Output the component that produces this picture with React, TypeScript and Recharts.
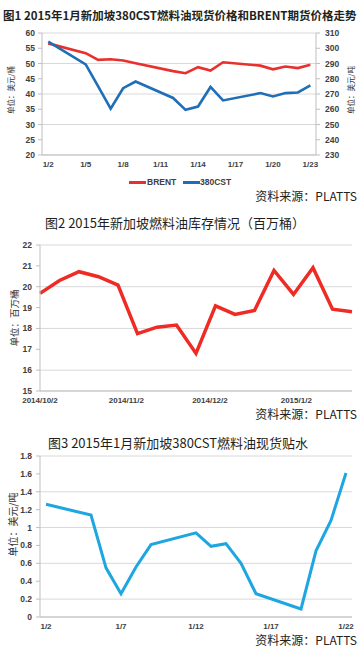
import React from "react";
import { LineChart, Line, XAxis, YAxis, CartesianGrid } from "recharts";

// fig 1: Jan 2015 trading days, Brent ($/bbl, left) and 380CST ($/t, right)
const fig1Days = [2, 5, 6, 7, 8, 9, 12, 13, 14, 15, 16, 19, 20, 21, 22, 23];
const fig1Brent = [56.6, 53.4, 51.2, 51.4, 51.0, 50.1, 47.5, 46.8, 48.8, 47.7, 50.4, 49.3, 48.1, 49.0, 48.5, 49.6];
const fig1Cst = [304.4, 289.4, 275, 260.4, 273.8, 278.2, 267.4, 259.6, 261.8, 274.6, 265.8, 270.6, 268.4, 270.6, 271, 275.6];
const fig1Ticks = [2, 5, 8, 11, 14, 17, 20, 23];
const fig1LeftTicks = [20, 25, 30, 35, 40, 45, 50, 55, 60];
const fig1RightTicks = [230, 240, 250, 260, 270, 280, 290, 300, 310];

// fig 2: weekly Singapore fuel oil stocks (million bbl)
const fig2Dates = [
  "2014-10-02", "2014-10-09", "2014-10-16", "2014-10-23", "2014-10-30",
  "2014-11-06", "2014-11-13", "2014-11-20", "2014-11-27", "2014-12-04",
  "2014-12-11", "2014-12-18", "2014-12-25", "2015-01-01", "2015-01-08",
  "2015-01-15", "2015-01-22",
];
const fig2Stock = [19.68, 20.3, 20.72, 20.48, 20.08, 17.75, 18.06, 18.16, 16.8, 19.08, 18.67, 18.86, 20.78, 19.63, 20.91, 18.92, 18.8];
const fig2TickDates = ["2014-10-02", "2014-11-02", "2014-12-02", "2015-01-02"];
const fig2TickLabels = ["2014/10/2", "2014/11/2", "2014/12/2", "2015/1/2"];
const fig2YTicks = [15, 16, 17, 18, 19, 20, 21, 22];

// fig 3: 380CST spot discount ($/t)
const fig3Days = [2, 5, 6, 7, 8, 9, 12, 13, 14, 15, 16, 19, 20, 21, 22];
const fig3Discount = [1.26, 1.14, 0.55, 0.26, 0.56, 0.81, 0.94, 0.79, 0.82, 0.6, 0.26, 0.09, 0.74, 1.08, 1.61];
const fig3Ticks = [2, 7, 12, 17, 22];
const fig3YTicks = [0, 0.2, 0.4, 0.6, 0.8, 1, 1.2, 1.4, 1.6, 1.8];

const FONT_CN = '"Noto Sans CJK SC", "Noto Sans", sans-serif';
const FONT_TICK = '"Liberation Sans", Arial, sans-serif';
const GRID = "#d9d9d9";
const AXIS = "#bfbfbf";

const tickStyle = { fontSize: 8.5, fontWeight: 700, fill: "#404040", fontFamily: FONT_TICK };
const xTickStyle = { fontSize: 8, fontWeight: 700, fill: "#404040", fontFamily: FONT_TICK };

const DAY = 86400000;
const fig2Base = Date.parse(fig2Dates[0]);
const dayOffset = (d: string) => Math.round((Date.parse(d) - fig2Base) / DAY);

const fig1Data = fig1Days.map((d, i) => ({ day: d, brent: fig1Brent[i], cst: fig1Cst[i] }));
const fig2Data = fig2Dates.map((d, i) => ({ t: dayOffset(d), stock: fig2Stock[i] }));
const fig2Ticks = fig2TickDates.map(dayOffset);
const fig3Data = fig3Days.map((d, i) => ({ day: d, v: fig3Discount[i] }));

const axisTitle = (text: string, x: number, size: number, dy = 0) => (props: any) => {
  const vb = props.viewBox;
  const cy = vb.y + vb.height / 2 + dy;
  return (
    <text
      x={x}
      y={cy}
      transform={`rotate(-90 ${x} ${cy})`}
      textAnchor="middle"
      dominantBaseline="central"
      fontSize={size}
      fontFamily={FONT_CN}
      fill="#333"
    >
      {text}
    </text>
  );
};

const abs = (top: number, left: number, extra: any = {}) => ({
  position: "absolute" as const,
  top,
  left,
  ...extra,
});

const titleStyle = (size: number, bold: boolean) => ({
  fontFamily: FONT_CN,
  fontSize: size,
  fontWeight: bold ? 700 : 400,
  lineHeight: "16px",
  whiteSpace: "nowrap" as const,
  color: "#231f20",
});

const sourceStyle = (top: number) => ({
  position: "absolute" as const,
  top,
  right: 5,
  fontFamily: FONT_CN,
  fontSize: 12,
  lineHeight: "12px",
  color: "#222",
  whiteSpace: "nowrap" as const,
});

export default function App() {
  return (
    <div style={{ position: "absolute", top: 0, left: 0, width: 362, height: 648, background: "#fff", overflow: "hidden" }}>
      {/* ---------- fig 1 ---------- */}
      <div style={abs(0, 0)}>
        <LineChart width={362} height={175} data={fig1Data} margin={{ top: 33, right: 0, bottom: 0, left: 0 }}>
          <CartesianGrid vertical={false} stroke={GRID} yAxisId="left" />
          <XAxis
            dataKey="day"
            type="number"
            domain={[1.5, 23.45]}
            ticks={fig1Ticks}
            tickFormatter={(d) => `1/${d}`}
            tick={xTickStyle}
            tickLine={false}
            tickSize={4}
            tickMargin={2}
            height={20}
            stroke={AXIS}
            allowDataOverflow
          />
          <YAxis
            yAxisId="left"
            domain={[20, 60]}
            ticks={fig1LeftTicks}
            width={42}
            tick={tickStyle}
            tickSize={4}
            tickMargin={3}
            stroke={AXIS}
            label={axisTitle("单位：美元/桶", 10, 7.5, -4)}
          />
          <YAxis
            yAxisId="right"
            orientation="right"
            domain={[230, 310]}
            ticks={fig1RightTicks}
            width={46}
            tick={{ ...tickStyle, textAnchor: "start" }}
            tickSize={4}
            tickMargin={5}
            stroke={AXIS}
            label={axisTitle("单位：美元/吨", 350, 7.5, -4)}
          />
          <Line yAxisId="left" dataKey="brent" stroke="#E8302C" strokeWidth={2.6} dot={false} isAnimationActive={false} />
          <Line yAxisId="right" dataKey="cst" stroke="#1F6EB6" strokeWidth={2.6} dot={false} isAnimationActive={false} />
        </LineChart>
      </div>
      <div style={abs(7, 3, titleStyle(11.5, true))}>图1 2015年1月新加坡380CST燃料油现货价格和BRENT期货价格走势</div>
      <div style={abs(181, 129, { width: 17, height: 3, background: "#E8302C" })} />
      <div style={abs(176, 147, { fontFamily: FONT_TICK, fontSize: 8.5, fontWeight: 700, color: "#404040", lineHeight: "12px" })}>BRENT</div>
      <div style={abs(181, 183, { width: 17, height: 3, background: "#1F6EB6" })} />
      <div style={abs(176, 200, { fontFamily: FONT_TICK, fontSize: 8.5, fontWeight: 700, color: "#404040", lineHeight: "12px" })}>380CST</div>
      <div style={sourceStyle(190)}>资料来源：PLATTS</div>

      {/* ---------- fig 2 ---------- */}
      <div style={abs(200, 0)}>
        <LineChart width={362} height={210} data={fig2Data} margin={{ top: 45, right: 10, bottom: 0, left: 0 }}>
          <CartesianGrid vertical={false} stroke={GRID} />
          <XAxis
            dataKey="t"
            type="number"
            domain={[0, 112]}
            ticks={fig2Ticks}
            tickFormatter={(t) => fig2TickLabels[fig2Ticks.indexOf(t)]}
            tick={xTickStyle}
            tickLine={false}
            tickSize={4}
            tickMargin={2}
            height={19}
            stroke={AXIS}
            interval={0}
          />
          <YAxis
            domain={[15, 22]}
            ticks={fig2YTicks}
            width={40}
            tick={tickStyle}
            tickSize={4}
            tickMargin={4}
            stroke={AXIS}
            label={axisTitle("单位：百万桶", 14, 9.5)}
          />
          <Line dataKey="stock" stroke="#EE2B24" strokeWidth={3.5} dot={false} isAnimationActive={false} />
        </LineChart>
      </div>
      <div style={abs(215, 45, titleStyle(13, false))}>图2 2015年新加坡燃料油库存情况（百万桶）</div>
      <div style={sourceStyle(408)}>资料来源：PLATTS</div>

      {/* ---------- fig 3 ---------- */}
      <div style={abs(420, 0)}>
        <LineChart width={362} height={220} data={fig3Data} margin={{ top: 36, right: 10, bottom: 0, left: 0 }}>
          <CartesianGrid vertical={false} stroke={GRID} />
          <XAxis
            dataKey="day"
            type="number"
            domain={[1.6, 22.4]}
            ticks={fig3Ticks}
            tickFormatter={(d) => `1/${d}`}
            tick={xTickStyle}
            tickLine={false}
            tickSize={4}
            tickMargin={2}
            height={23}
            stroke={AXIS}
            allowDataOverflow
          />
          <YAxis
            domain={[0, 1.8]}
            ticks={fig3YTicks}
            width={40}
            tick={tickStyle}
            tickSize={4}
            tickMargin={4}
            stroke={AXIS}
            label={axisTitle("单位：美元/吨", 12, 10, -12)}
          />
          <Line dataKey="v" stroke="#1DA6E0" strokeWidth={3} dot={false} isAnimationActive={false} />
        </LineChart>
      </div>
      <div style={abs(435, 48, titleStyle(13, false))}>图3 2015年1月新加坡380CST燃料油现货贴水</div>
      <div style={sourceStyle(634)}>资料来源：PLATTS</div>
    </div>
  );
}
